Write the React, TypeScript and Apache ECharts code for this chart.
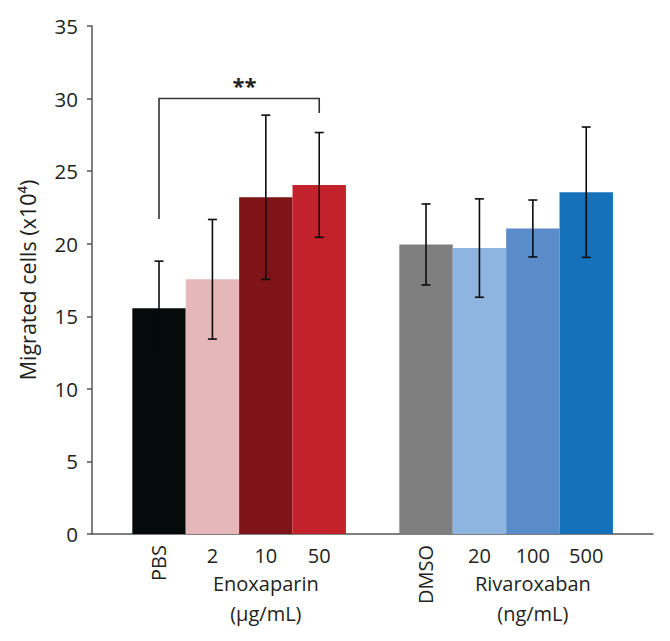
import React, { useEffect, useRef } from "react";
import * as echarts from "echarts";

const categories = ["PBS", "2", "10", "50", "DMSO", "20", "100", "500"];
const positions = [0, 1, 2, 3, 5, 6, 7, 8];
const means = [15.55, 17.55, 23.2, 24.05, 19.95, 19.7, 21.05, 23.55];
const errors = [3.25, 4.12, 5.66, 3.61, 2.79, 3.39, 1.96, 4.49];
const rotatedLabel = [true, false, false, false, true, false, false, false];
const barColors = ["#050a0b", "#e6b7b8", "#7f1418", "#c1222b", "#7f7f7f", "#8eb4e0", "#5a8cca", "#1571b9"];
const groupLabels = ["Enoxaparin\n(μg/mL)", "Rivaroxaban\n(ng/mL)"];
const groupPositions = [2, 7];
const bracketX = [0, 3];
const bracketY = [21.7, 30, 29.0];
const starX = 1.6;
const starY = 30.95;
const starText = "**";
const yTicks = { min: 0, max: 35, interval: 5 };

const FONT = "'Open Sans', 'Noto Sans', sans-serif";
const TXT = "#231f20";

export default function App() {
  const ref = useRef<HTMLDivElement>(null);
  useEffect(() => {
    if (!ref.current) return;
    const chart = echarts.init(ref.current, null, { renderer: "svg" });
    const option: any = {
      animation: false,
      grid: { left: 92, right: 17, top: 26, bottom: 107 },
      xAxis: {
        type: "value",
        min: -1.255,
        max: 9.25,
        axisLine: { show: true, onZero: false, lineStyle: { color: "#555", width: 1.5 } },
        axisTick: { show: false },
        axisLabel: { show: false },
        splitLine: { show: false },
      },
      yAxis: {
        type: "value",
        min: yTicks.min,
        max: yTicks.max,
        interval: yTicks.interval,
        name: "Migrated cells (x10⁴)",
        nameLocation: "middle",
        nameGap: 54,
        nameTextStyle: { fontSize: 21.5, color: TXT, fontFamily: FONT },
        axisLine: { show: true, onZero: false, lineStyle: { color: "#555", width: 1.5 } },
        axisTick: { show: true, length: 5, lineStyle: { color: "#555", width: 1.5 } },
        axisLabel: { fontSize: 20.5, color: TXT, fontFamily: FONT, margin: 14 },
        splitLine: { show: false },
      },
      series: [
        {
          type: "bar",
          barWidth: 53.4,
          data: positions.map((x, i) => ({ value: [x, means[i]], itemStyle: { color: barColors[i] } })),
          z: 2,
        },
        {
          type: "custom",
          z: 5,
          data: positions.map((x, i) => [x, means[i] - errors[i], means[i] + errors[i]]),
          renderItem: (params: any, api: any) => {
            const x = api.value(0);
            const lo = api.coord([x, api.value(1)]);
            const hi = api.coord([x, api.value(2)]);
            const hw = 4.5;
            const st = { stroke: "#0a0c0d", lineWidth: 1.6 };
            return {
              type: "group",
              children: [
                { type: "line", shape: { x1: lo[0], y1: lo[1], x2: hi[0], y2: hi[1] }, style: st },
                { type: "line", shape: { x1: lo[0] - hw, y1: lo[1], x2: lo[0] + hw, y2: lo[1] }, style: st },
                { type: "line", shape: { x1: hi[0] - hw, y1: hi[1], x2: hi[0] + hw, y2: hi[1] }, style: st },
              ],
            };
          },
        },
        {
          type: "custom",
          z: 5,
          data: positions.map((x) => [x, 0]),
          renderItem: (params: any, api: any) => {
            const i = params.dataIndex;
            const p = api.coord([api.value(0), 0]);
            if (rotatedLabel[i]) {
              return {
                type: "text",
                x: p[0] - 1,
                y: p[1] + 11,
                rotation: Math.PI / 2,
                style: { text: categories[i], fontSize: 20, fontFamily: FONT, fill: TXT, align: "right", verticalAlign: "middle" },
              };
            }
            return {
              type: "text",
              x: p[0],
              y: p[1] + 21,
              style: { text: categories[i], fontSize: 20, fontFamily: FONT, fill: TXT, align: "center", verticalAlign: "middle" },
            };
          },
        },
        {
          type: "custom",
          z: 5,
          data: groupPositions.map((x) => [x, 0]),
          renderItem: (params: any, api: any) => {
            const i = params.dataIndex;
            const p = api.coord([api.value(0), 0]);
            return {
              type: "text",
              x: p[0],
              y: p[1] + 34,
              style: { text: groupLabels[i], fontSize: 20, lineHeight: 30, fontFamily: FONT, fill: TXT, align: "center", verticalAlign: "top" },
            };
          },
        },
        {
          type: "custom",
          z: 6,
          data: [[bracketX[0], bracketY[1]]],
          renderItem: (params: any, api: any) => {
            const a = api.coord([bracketX[0], bracketY[0]]);
            const b = api.coord([bracketX[0], bracketY[1]]);
            const c = api.coord([bracketX[1], bracketY[1]]);
            const d = api.coord([bracketX[1], bracketY[2]]);
            const s = api.coord([starX, starY]);
            return {
              type: "group",
              children: [
                { type: "polyline", shape: { points: [a, b, c, d] }, style: { stroke: "#333", lineWidth: 1.6, fill: "none" } },
                {
                  type: "text",
                  x: s[0],
                  y: s[1],
                  style: { text: starText, fontSize: 22, fontWeight: "bold", fontFamily: FONT, fill: TXT, align: "center", verticalAlign: "middle" },
                },
              ],
            };
          },
        },
      ],
    };
    chart.setOption(option);
    return () => chart.dispose();
  }, []);
  return <div ref={ref} style={{ position: "fixed", left: 0, top: 0, width: 670, height: 641, background: "#fff" }} />;
}
